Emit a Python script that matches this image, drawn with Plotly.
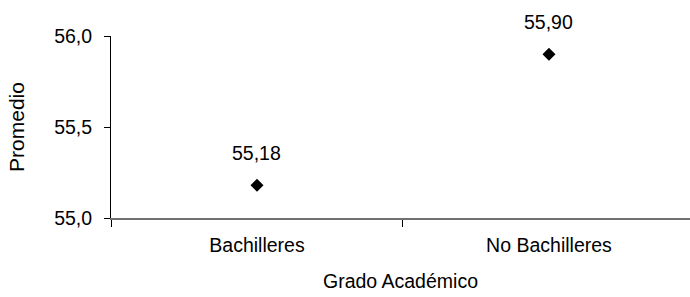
import plotly.graph_objects as go

categories = ["Bachilleres", "No Bachilleres"]
promedio = [55.18, 55.90]
y_ticks = [55.0, 55.5, 56.0]

FONT = "Liberation Sans, Arial, sans-serif"
FS = 19.5

fig = go.Figure()
fig.add_trace(go.Scatter(
    x=categories, y=promedio, mode="markers",
    marker=dict(symbol="diamond", size=10, color="black"),
    showlegend=False, hoverinfo="skip",
))

for c, v in zip(categories, promedio):
    fig.add_annotation(x=c, y=v, text=f"{v:.2f}".replace(".", ","),
                       showarrow=False, yshift=32,
                       font=dict(family=FONT, size=FS, color="black"))

fig.update_layout(
    width=690, height=297,
    margin=dict(l=111, r=0, t=36, b=79, autoexpand=False),
    paper_bgcolor="white", plot_bgcolor="white",
    separators=",.",
    font=dict(family=FONT, size=FS, color="black"),
)
fig.update_xaxes(
    type="category", range=[-0.5, 1.483],
    tickson="boundaries", ticks="outside", ticklen=7, tickcolor="black",
    showline=True, linecolor="#707070", linewidth=1.5,
    showgrid=False, zeroline=False,
    ticklabelstandoff=9,
    title=dict(text="Grado Académico", standoff=19, font=dict(size=FS)),
)
fig.update_yaxes(
    range=[55, 56], tickvals=y_ticks, tickformat=".1f",
    ticks="outside", ticklen=6, tickcolor="black",
    showline=True, linecolor="black", linewidth=1,
    showgrid=False, zeroline=False,
    ticklabelstandoff=8,
    title=dict(text="Promedio", standoff=23, font=dict(size=21)),
)

fig.write_html(
    "out.html",
    config={"displayModeBar": False},
    post_script="document.body.style.margin='0';document.body.style.overflow='hidden';",
)
